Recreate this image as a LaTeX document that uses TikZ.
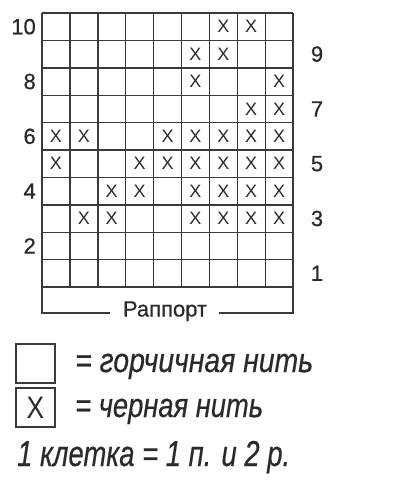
\documentclass[tikz,border=0pt]{standalone}
\usepackage{fontspec}
\setmainfont{Liberation Sans}
\newfontface\labfont[FakeBold=0.6]{Liberation Sans}
\newfontface\legfont[FakeBold=0.5]{Liberation Sans Italic}
\definecolor{ink}{HTML}{2A2A2A}
\definecolor{gridc}{HTML}{3A3A3A}
\begin{document}
\begin{tikzpicture}[x=1pt,y=-1pt,
  gridline/.style={draw=gridc,line width=1.4pt},
  xmark/.style={inner sep=0pt,text=ink,font=\fontsize{18}{18}\selectfont},
  rowlab/.style={inner sep=0pt,text=ink,font=\labfont\fontsize{22}{22}\selectfont},
  legbox/.style={draw=gridc,line width=1.4pt,minimum width=39pt,minimum height=39pt,inner sep=0pt},
  legtext/.style={inner sep=0pt,text=ink,anchor=base west,font=\legfont\fontsize{34}{34}\selectfont}]
\useasboundingbox (0,0) rectangle (400,480);
\fill[white] (0,0) rectangle (400,480);
% grid
\def\gx{42}\def\gw{27.9}\def\gy{287}\def\gh{27.4}
\foreach \i in {0,...,9}{
  \draw[gridline] ({\gx+\i*\gw},13) -- ({\gx+\i*\gw},\gy);
}
\foreach \j in {0,...,10}{
  \draw[gridline] (\gx,{\gy-\j*\gh}) -- ({\gx+9*\gw},{\gy-\j*\gh});
}
% X marks
\foreach \c/\r in {7/10,8/10,6/9,7/9,6/8,9/8,8/7,9/7,
  1/6,2/6,5/6,6/6,7/6,8/6,9/6,
  1/5,4/5,5/5,6/5,7/5,8/5,9/5,
  3/4,4/4,6/4,7/4,8/4,9/4,
  2/3,3/3,6/3,7/3,8/3,9/3}{
  \node[xmark] (x\c-\r) at ({\gx+(\c-0.5)*\gw},{\gy-(\r-0.5)*\gh}) {X};
}
% row labels
\foreach \r in {2,4,6,8,10}{
  \node[rowlab,anchor=east] (l\r) at (36,{\gy-(\r-0.5)*\gh}) {\r};
}
\foreach \r in {1,3,5,7,9}{
  \node[rowlab] (r\r) at (317,{\gy-(\r-0.5)*\gh}) {\r};
}
% rapport
\node[rowlab,anchor=base] (rap) at (165,316.5) {Раппорт};
\draw[gridline] (\gx,\gy) -- (\gx,313) -- (110,313);
\draw[gridline] (219,313) -- ({\gx+9*\gw},313) -- ({\gx+9*\gw},\gy);
% legend
\node[legbox] (b1) at (35.5,363.5) {};
\node[legbox] (b2) at (35.5,407.5) {};
\node[inner sep=0pt,text=ink,font=\fontsize{31}{31}\selectfont] (bx) at (b2.center) {\scalebox{0.85}[1]{X}};
\node[legtext] (t1) at (75,372) {\resizebox{238pt}{\height}{= горчичная нить}};
\node[legtext] (t2) at (75,417) {\resizebox{188pt}{\height}{= черная нить}};
\node[legtext,font=\legfont\fontsize{36}{36}\selectfont] (t3) at (17,466) {\resizebox{273pt}{\height}{1 клетка = 1 п. и 2 р.}};
\end{tikzpicture}
\end{document}
